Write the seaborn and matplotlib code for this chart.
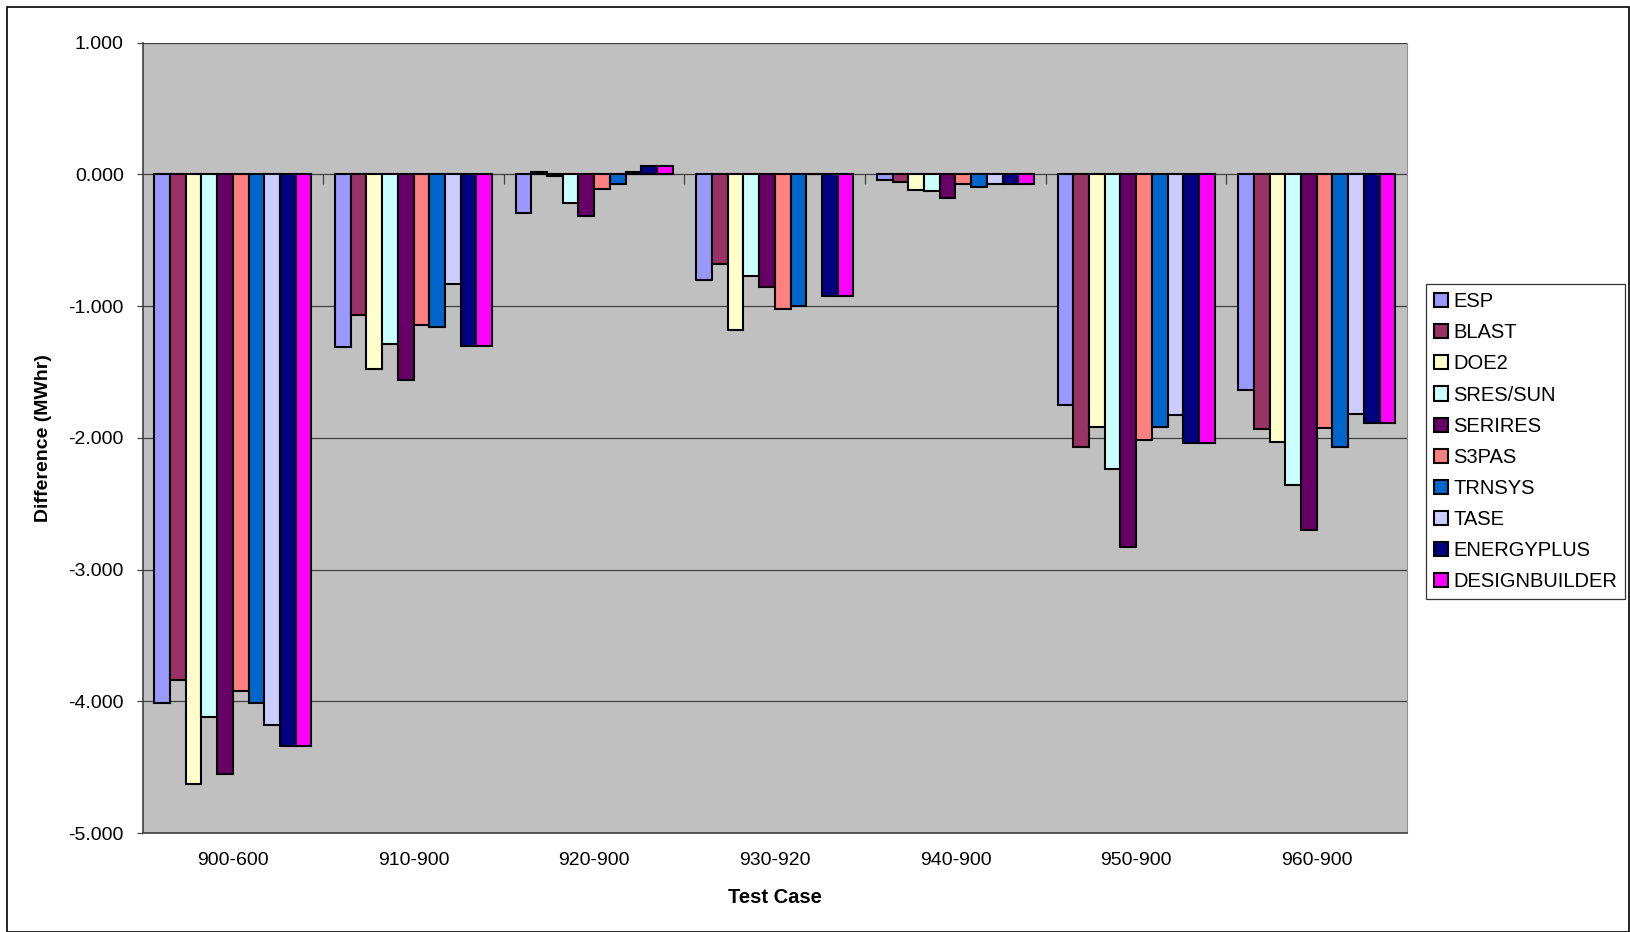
import matplotlib
matplotlib.use('Agg')
import matplotlib.pyplot as plt
import numpy as np
import pandas as pd
import seaborn as sns
from matplotlib.patches import Rectangle
from matplotlib.ticker import FormatStrFormatter, MultipleLocator

# Test cases along the x axis
cases = ['900-600', '910-900', '920-900', '930-920', '940-900', '950-900', '960-900']

programs = ['ESP', 'BLAST', 'DOE2', 'SRES/SUN', 'SERIRES', 'S3PAS', 'TRNSYS', 'TASE',
            'ENERGYPLUS', 'DESIGNBUILDER']

# Differences in MWhr, one list per program
esp = [-4.01, -1.31, -0.29, -0.80, -0.045, -1.75, -1.64]
blast = [-3.84, -1.065, 0.015, -0.68, -0.06, -2.07, -1.93]
doe2 = [-4.63, -1.48, -0.015, -1.18, -0.116, -1.92, -2.03]
sres_sun = [-4.12, -1.29, -0.22, -0.77, -0.124, -2.24, -2.36]
serires = [-4.55, -1.56, -0.32, -0.855, -0.177, -2.83, -2.70]
s3pas = [-3.92, -1.14, -0.11, -1.02, -0.073, -2.02, -1.925]
trnsys = [-4.01, -1.16, -0.07, -1.00, -0.096, -1.92, -2.07]
tase = [-4.18, -0.83, 0.015, 0.0, -0.073, -1.83, -1.82]
energyplus = [-4.34, -1.30, 0.066, -0.92, -0.073, -2.04, -1.89]
designbuilder = [-4.34, -1.30, 0.066, -0.92, -0.073, -2.04, -1.89]

colors = ['#9999FF', '#993366', '#FFFFCC', '#CCFFFF', '#660066', '#FF8080', '#0066CC',
          '#CCCCFF', '#000080', '#FF00FF']


def main():
    series = [esp, blast, doe2, sres_sun, serires, s3pas, trnsys, tase, energyplus, designbuilder]
    rows = []
    for prog, vals in zip(programs, series):
        for case, v in zip(cases, vals):
            rows.append({'Test Case': case, 'Program': prog, 'Difference': v})
    df = pd.DataFrame(rows)

    plt.rcParams['font.family'] = ['Liberation Sans', 'DejaVu Sans']

    fig = plt.figure(figsize=(16.31, 9.32), dpi=100)
    ax = fig.add_axes([0.0874, 0.1062, 0.7753, 0.8481])
    ax.set_facecolor('#C0C0C0')

    sns.barplot(data=df, x='Test Case', y='Difference', hue='Program', hue_order=programs,
                order=cases, palette=colors, edgecolor='black', linewidth=1.5,
                width=0.87, errorbar=None, saturation=1, ax=ax, zorder=3)

    ax.set_ylim(-5, 1)
    ax.set_xlim(-0.5, len(cases) - 0.5)
    ax.yaxis.set_major_locator(MultipleLocator(1))
    ax.yaxis.set_major_formatter(FormatStrFormatter('%.3f'))
    ax.grid(axis='y', color='#404040', linewidth=0.9, zorder=1)
    ax.set_axisbelow(True)

    # short tick marks at the category boundaries on the zero line
    ax.vlines(np.arange(0.5, len(cases) - 0.5), -0.07, 0, color='#404040', linewidth=0.9, zorder=2)

    ax.tick_params(axis='x', length=0, pad=14, labelsize=14)
    ax.tick_params(axis='y', length=4.5, width=0.9, color='#404040', pad=9, labelsize=14)

    for side in ['left', 'bottom']:
        ax.spines[side].set_color('#404040')
        ax.spines[side].set_linewidth(1.2)
    ax.spines['right'].set_color('#909090')
    ax.spines['top'].set_visible(False)

    ax.set_xlabel('Test Case', fontsize=14.5, fontweight='bold')
    ax.set_ylabel('Difference (MWhr)', fontsize=14, fontweight='bold')
    ax.xaxis.set_label_coords(0.5, -0.07)
    ax.yaxis.set_label_coords(-0.072, 0.5)

    handles, labels = ax.get_legend_handles_labels()
    ax.get_legend().remove()
    leg = fig.legend(handles, labels, loc='upper left', bbox_to_anchor=(0.8745, 0.695),
                     frameon=True, fancybox=False, fontsize=14.5, handlelength=0.7,
                     handleheight=0.7, handletextpad=0.25, labelspacing=0.6,
                     borderpad=0.4, borderaxespad=0)
    leg.get_frame().set_edgecolor('black')
    leg.get_frame().set_linewidth(0.9)

    # outer chart border
    fig.patches.append(Rectangle((0.004, 0.0), 0.995, 0.993, transform=fig.transFigure,
                                 fill=False, edgecolor='black', linewidth=1.2))

    fig.savefig('out.png', dpi=100)


if __name__ == '__main__':
    main()
